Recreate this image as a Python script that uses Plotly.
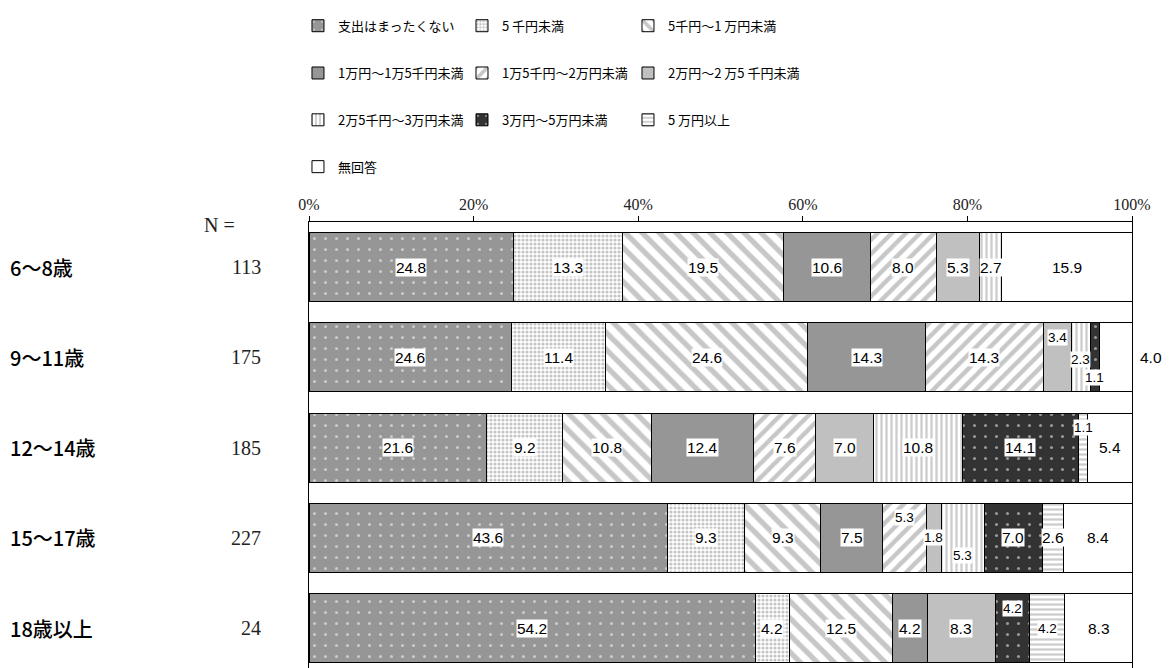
import plotly.graph_objects as go

# age groups and sample sizes
groups = ["6～8歳", "9～11歳", "12～14歳", "15～17歳", "18歳以上"]
n_counts = [113, 175, 185, 227, 24]
tick_vals = [0, 20, 40, 60, 80, 100]

# percentage per spending bracket (one value per age group)
spend_none = [24.8, 24.6, 21.6, 43.6, 54.2]
under_5k = [13.3, 11.4, 9.2, 9.3, 4.2]
k5_to_10k = [19.5, 24.6, 10.8, 9.3, 12.5]
k10_to_15k = [10.6, 14.3, 12.4, 7.5, 4.2]
k15_to_20k = [8.0, 14.3, 7.6, 5.3, 0]
k20_to_25k = [5.3, 3.4, 7.0, 1.8, 8.3]
k25_to_30k = [2.7, 2.3, 10.8, 5.3, 0]
k30_to_50k = [0, 1.1, 14.1, 7.0, 4.2]
over_50k = [0, 0, 1.1, 2.6, 4.2]
no_answer = [15.9, 4.0, 5.4, 8.4, 8.3]

series = [
    ("支出はまったくない", spend_none),
    ("5 千円未満", under_5k),
    ("5千円～1 万円未満", k5_to_10k),
    ("1万円～1万5千円未満", k10_to_15k),
    ("1万5千円～2万円未満", k15_to_20k),
    ("2万円～2 万5 千円未満", k20_to_25k),
    ("2万5千円～3万円未満", k25_to_30k),
    ("3万円～5万円未満", k30_to_50k),
    ("5 万円以上", over_50k),
    ("無回答", no_answer),
]

# bg colour, pattern shape, fg colour, pattern size, solidity
styles = [
    ("#969696", ".", "#ffffff", 11, 0.06),
    ("#ffffff", ".", "#8c8c8c", 4, 0.5),
    ("#ffffff", "\\", "#909090", 12, 0.45),
    ("#969696", "", None, None, None),
    ("#ffffff", "/", "#909090", 10, 0.45),
    ("#c0c0c0", "", None, None, None),
    ("#ffffff", "|", "#999999", 5, 0.45),
    ("#333333", ".", "#ffffff", 11, 0.06),
    ("#ffffff", "-", "#999999", 5, 0.45),
    ("#ffffff", "", None, None, None),
]

# legend grid: 3 columns, 4 rows (paper coords of the plot area)
legend_cols = [-0.0134, 0.1859, 0.3876]
legend_rows = [1.440, 1.334, 1.229, 1.124]

# label nudges for the thin segments: (row, series) -> (xshift, yshift)
label_shift = {
    (1, 5): (0, 20), (1, 6): (0, -2), (1, 7): (0, -20),
    (2, 8): (0, 20),
    (3, 4): (0, 20), (3, 5): (0, 0), (3, 6): (0, -18),
    (4, 7): (0, 20), (4, 8): (0, 0),
}
outside_labels = {(1, 9)}

rows = list(range(len(groups)))
num_font = "Liberation Sans, Arial, sans-serif"
jp_font = "Noto Sans CJK JP, Noto Sans, sans-serif"
serif_font = "Liberation Serif, DejaVu Serif, serif"

fig = go.Figure()
legend_cfg = {}
for i, ((name, vals), (bg, shape, fg, size, sol)) in enumerate(zip(series, styles)):
    pattern = dict(shape=shape)
    if shape:
        pattern.update(fgcolor=fg, bgcolor=bg, size=size, solidity=sol,
                       fillmode="overlay")
    key = "legend" if i == 0 else f"legend{i + 1}"
    fig.add_trace(go.Bar(
        x=vals, y=rows, name=name, orientation="h", width=0.765,
        marker=dict(color=bg, line=dict(color="black", width=1),
                    pattern=pattern),
        legend=key, hoverinfo="name+x"))
    legend_cfg[key] = dict(
        x=legend_cols[i % 3], y=legend_rows[i // 3],
        xanchor="left", yanchor="middle",
        bgcolor="rgba(0,0,0,0)", itemclick=False, itemdoubleclick=False,
        font=dict(family=jp_font, size=13, color="black"))

annotations = []
cum = [0.0] * len(groups)
for si, (name, vals) in enumerate(series):
    for r, v in enumerate(vals):
        start = cum[r]
        cum[r] += v
        if v <= 0:
            continue
        if (r, si) in outside_labels:
            annotations.append(dict(
                x=cum[r], y=r, xref="x", yref="y", text=f"{v:.1f}",
                showarrow=False, xanchor="left", xshift=6,
                font=dict(family=num_font, size=15.5, color="black")))
            continue
        dx, dy = label_shift.get((r, si), (0, 0))
        small = (r, si) in label_shift
        annotations.append(dict(
            x=start + v / 2, y=r, xref="x", yref="y", text=f"{v:.1f}",
            showarrow=False, xshift=dx, yshift=dy, bgcolor="white",
            borderpad=0,
            font=dict(family=num_font, size=13.5 if small else 15.5,
                      color="black")))

for r, (g, n) in enumerate(zip(groups, n_counts)):
    annotations.append(dict(
        x=-0.3657, y=r, xref="paper", yref="y", text=g, showarrow=False,
        xanchor="left",
        font=dict(family=jp_font, size=20, weight=500, color="black")))
    annotations.append(dict(
        x=-0.0559, y=r, xref="paper", yref="y", text=str(n), showarrow=False,
        xanchor="right", font=dict(family=serif_font, size=20,
                                   color="#222222")))
annotations.append(dict(
    x=-0.0875, y=1.022, xref="paper", yref="paper", text="N =",
    showarrow=False, xanchor="right",
    font=dict(family=serif_font, size=20, color="#222222")))

# the page body adds an 8px margin, so the figure is 16px smaller
fig.update_layout(
    barmode="stack",
    width=1162, height=660,
    margin=dict(l=301, r=38, t=214, b=0),
    paper_bgcolor="white", plot_bgcolor="white",
    showlegend=True,
    annotations=annotations,
    xaxis=dict(range=[0, 100], side="top", tickvals=tick_vals,
               ticktext=[f"{t}%" for t in tick_vals],
               ticks="outside", ticklen=5, tickcolor="black",
               showline=True, linecolor="black", linewidth=1,
               showgrid=False, zeroline=False, fixedrange=True,
               tickfont=dict(family=serif_font, size=16, color="#222222")),
    yaxis=dict(range=[4.44, -0.5], showticklabels=False, ticks="",
               showline=True, mirror=True, linecolor="black", linewidth=1,
               showgrid=False, zeroline=False, fixedrange=True),
    **legend_cfg,
)

fig.write_html("out.html")
